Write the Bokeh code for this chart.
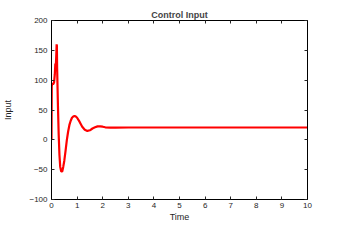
from bokeh.plotting import figure
from bokeh.models import LinearAxis, Range1d, FixedTicker
from bokeh.embed import file_html
from bokeh.resources import INLINE

time = [0, 0.01, 0.03, 0.06, 0.1, 0.13, 0.15, 0.17, 0.19, 0.2, 0.21, 0.22, 0.25,
        0.28, 0.31, 0.34, 0.38, 0.42, 0.46, 0.5, 0.55, 0.6, 0.65, 0.7, 0.75, 0.8,
        0.85, 0.9, 0.95, 1.0, 1.1, 1.2, 1.3, 1.4, 1.5, 1.6, 1.7, 1.8, 1.9, 2.0,
        2.1, 2.3, 2.5, 3.0, 10]
control_input = [0, 90, 95, 93, 96, 110, 128, 125, 145, 160, 158, 120, 60,
                 10, -25, -45, -53, -53, -45, -35, -18, 0, 14, 25, 32, 37,
                 39, 40, 39, 37, 30, 22, 17, 15, 16, 19, 21, 22.5, 22.5, 22,
                 21, 20.5, 20.5, 20.7, 20.7]
x_ticks = [0, 1, 2, 3, 4, 5, 6, 7, 8, 9, 10]
y_ticks = [-100, -50, 0, 50, 100, 150, 200]

FONT = "Liberation Sans"

p = figure(width=332, height=224, output_backend="svg", toolbar_location=None,
           x_range=Range1d(0, 10), y_range=Range1d(-100, 200),
           title="Control Input",
           min_border_left=51, min_border_right=25, min_border_top=20, min_border_bottom=22)
p.title.align = "center"
p.title.text_font = FONT
p.title.text_font_size = "9px"
p.title.text_font_style = "bold"
p.title.standoff = 1
p.title.offset = 0
p.grid.visible = False
p.outline_line_color = "black"
p.outline_line_width = 1

p.line(time, control_input, line_color="#ff0000", line_width=2.2)

for ax, ticks in ((p.xaxis[0], x_ticks), (p.yaxis[0], y_ticks)):
    ax.ticker = FixedTicker(ticks=ticks)
    ax.major_tick_in = 3
    ax.major_tick_out = 0
    ax.minor_tick_in = 0
    ax.minor_tick_out = 0
    ax.axis_line_color = "black"
    ax.major_tick_line_color = "#262626"
    ax.major_label_text_font = FONT
    ax.major_label_text_font_size = "8px"
    ax.major_label_text_color = "#262626"
    ax.axis_label_text_font = FONT
    ax.axis_label_text_font_size = "9px"
    ax.axis_label_text_font_style = "normal"
    ax.axis_label_text_color = "#262626"

p.xaxis[0].axis_label = "Time"
p.yaxis[0].axis_label = "Input"
p.xaxis[0].major_label_standoff = 3
p.xaxis[0].axis_label_standoff = 1
p.yaxis[0].major_label_standoff = 4
p.yaxis[0].axis_label_standoff = 13

for loc, ticks in (("right", y_ticks), ("above", x_ticks)):
    ax = LinearAxis(ticker=FixedTicker(ticks=ticks), major_tick_in=3, major_tick_out=0,
                    minor_tick_in=0, minor_tick_out=0, axis_line_color="black",
                    major_label_overrides={t: "" for t in ticks},
                    major_label_text_font_size="8px", major_label_standoff=0,
                    major_tick_line_color="#262626")
    p.add_layout(ax, loc)

open("out.html", "w").write(file_html(p, INLINE))
